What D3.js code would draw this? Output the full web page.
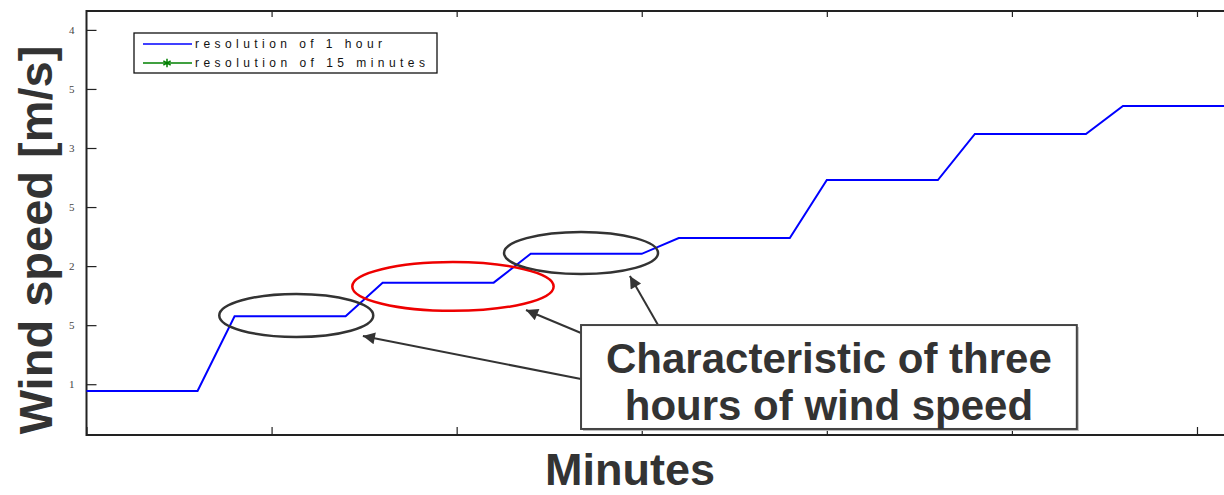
<!DOCTYPE html>
<html>
<head>
<meta charset="utf-8">
<script src="https://cdn.jsdelivr.net/npm/d3@7"></script>
<style>
  html, body { margin: 0; padding: 0; background: #fff; }
  svg { display: block; }
</style>
</head>
<body>
<svg id="chart" width="1224" height="495"></svg>
<script>
// ---- data ----
const minutes = [0, 45, 60, 105, 120, 165, 180, 225, 240, 285, 300, 345, 360, 405, 420, 465];
const speedHourly = [0.943, 0.943, 1.576, 1.576, 1.86, 1.86, 2.104, 2.104, 2.237, 2.237, 2.729, 2.729, 3.119, 3.119, 3.356, 3.356];
const xTickValues = [0, 75, 150, 225, 300, 375, 450];
const yTickValues = [1, 1.5, 2, 2.5, 3, 3.5, 4];
const yTickLabels = ["1", "5", "2", "5", "3", "5", "4"];
const legendLabels = ["resolution of 1 hour", "resolution of 15 minutes"];
const legendColors = ["#0000ff", "#008000"];
// annotation ellipses: centre (minutes, m/s), radii (minutes, m/s)
const ellipseCx = [85, 148.5, 200.4];
const ellipseCy = [1.582, 1.828, 2.111];
const ellipseRx = [31.2, 40.8, 31.2];
const ellipseRy = [0.182, 0.2066, 0.178];
const ellipseColors = ["#333333", "#ee0000", "#333333"];
// arrows: tail -> tip (minutes, m/s)
const arrowTail = [[200.4, 1.044], [200.4, 1.434], [231.6, 1.501]];
const arrowTip = [[112.0, 1.408], [178.1, 1.628], [220.2, 1.916]];
const boxText = ["Characteristic of three", "hours of wind speed"];

// ---- scales ----
const svg = d3.select("#chart");
const pLeft = 86.5, pRight = 1234, pTop = 11, pBottom = 435;
const x = d3.scaleLinear().domain([0, 465]).range([pLeft, pRight]);
const y = d3.scaleLinear().domain([0.57, 4.16]).range([pBottom, pTop]);

svg.append("defs").append("marker")
  .attr("id", "ah").attr("viewBox", "0 0 10 10").attr("refX", 10).attr("refY", 5)
  .attr("markerWidth", 16).attr("markerHeight", 12).attr("markerUnits", "userSpaceOnUse")
  .attr("orient", "auto")
  .append("path").attr("d", "M0,0 L10,5 L0,10 Z").attr("fill", "#333");

// ---- frame ----
svg.append("path")
  .attr("d", `M${pRight},${pTop} H${pLeft} V${pBottom} H${pRight}`)
  .attr("fill", "none").attr("stroke", "#222").attr("stroke-width", 2);

// y axis (ticks inward, labels outside)
const yAxis = d3.axisLeft(y).tickValues(yTickValues).tickSize(0).tickPadding(0)
  .tickFormat((d, i) => yTickLabels[i]);
const gy = svg.append("g").attr("transform", `translate(${pLeft},0)`).call(yAxis);
gy.select(".domain").remove();
gy.selectAll(".tick text").attr("x", -12).attr("font-family", "Liberation Serif")
  .attr("font-size", 11).attr("fill", "#444");
gy.selectAll(".tick").append("line").attr("x1", 0).attr("x2", 10).attr("stroke", "#222").attr("stroke-width", 1.2);

// x axis ticks (bottom inward, top inward), no labels
const xAxisB = d3.axisBottom(x).tickValues(xTickValues).tickSize(-8).tickFormat("");
const gxb = svg.append("g").attr("transform", `translate(0,${pBottom})`).call(xAxisB);
gxb.select(".domain").remove();
gxb.selectAll(".tick line").attr("stroke", "#222").attr("stroke-width", 1.2);
const xAxisT = d3.axisTop(x).tickValues(xTickValues.filter(d => d > 0)).tickSize(-6).tickFormat("");
const gxt = svg.append("g").attr("transform", `translate(0,${pTop})`).call(xAxisT);
gxt.select(".domain").remove();
gxt.selectAll(".tick line").attr("stroke", "#222").attr("stroke-width", 1.2);

// ---- data line ----
const pts = minutes.map((m, i) => [m, speedHourly[i]]);
svg.append("path").datum(pts)
  .attr("d", d3.line().x(d => x(d[0])).y(d => y(d[1])))
  .attr("fill", "none").attr("stroke", "#0000ff").attr("stroke-width", 2);

// ---- ellipses ----
svg.append("g").selectAll("ellipse").data(ellipseCx).join("ellipse")
  .attr("cx", (d) => x(d))
  .attr("cy", (d, i) => y(ellipseCy[i]))
  .attr("rx", (d, i) => x(ellipseRx[i]) - x(0))
  .attr("ry", (d, i) => y(0) - y(ellipseRy[i]))
  .attr("fill", "none").attr("stroke", (d, i) => ellipseColors[i]).attr("stroke-width", 2.5);

// ---- arrows ----
svg.append("g").selectAll("line").data(arrowTail).join("line")
  .attr("x1", d => x(d[0])).attr("y1", d => y(d[1]))
  .attr("x2", (d, i) => x(arrowTip[i][0])).attr("y2", (d, i) => y(arrowTip[i][1]))
  .attr("stroke", "#333").attr("stroke-width", 2).attr("marker-end", "url(#ah)");

// ---- annotation box ----
const bx0 = x(200.4), bx1 = x(401.3), by0 = y(1.501), by1 = y(0.621);
svg.append("rect").attr("x", bx0 + 2).attr("y", by0 + 2).attr("width", bx1 - bx0).attr("height", by1 - by0)
  .attr("fill", "#bbb");
svg.append("rect").attr("x", bx0).attr("y", by0).attr("width", bx1 - bx0).attr("height", by1 - by0)
  .attr("fill", "#fff").attr("stroke", "#444").attr("stroke-width", 2);
svg.append("g").selectAll("text").data(boxText).join("text")
  .attr("x", (bx0 + bx1) / 2).attr("y", (d, i) => by0 + 48 + i * 47)
  .attr("text-anchor", "middle").attr("font-family", "Liberation Sans, Arial, sans-serif")
  .attr("font-weight", "bold").attr("font-size", 42).attr("fill", "#333").text(d => d);

// ---- legend ----
const lg = svg.append("g").attr("transform", "translate(134,33)");
lg.append("rect").attr("width", 303).attr("height", 40).attr("fill", "#fff")
  .attr("stroke", "#111").attr("stroke-width", 1.3);
const lgLen = [187, 230];
legendLabels.forEach((lab, i) => {
  const yy = 11 + i * 19;
  lg.append("line").attr("x1", 9).attr("x2", 58).attr("y1", yy).attr("y2", yy)
    .attr("stroke", legendColors[i]).attr("stroke-width", 1.5);
  if (i === 1) {
    lg.append("path").attr("d", d3.symbol().type(d3.symbolAsterisk).size(50)())
      .attr("transform", `translate(33,${yy})`).attr("fill", "none")
      .attr("stroke", legendColors[i]).attr("stroke-width", 1.5);
  }
  lg.append("text").attr("x", 61).attr("y", yy + 4)
    .attr("font-family", "Liberation Sans, Arial, sans-serif").attr("font-size", 12)
    .attr("fill", "#111").attr("textLength", lgLen[i]).attr("lengthAdjust", "spacing").text(lab);
});

// ---- axis titles ----
svg.append("text").attr("transform", "translate(52,240) rotate(-90)")
  .attr("text-anchor", "middle").attr("font-family", "Liberation Sans, Arial, sans-serif")
  .attr("font-weight", "bold").attr("font-size", 47).attr("fill", "#333").text("Wind speed [m/s]");
svg.append("text").attr("x", 630).attr("y", 485)
  .attr("text-anchor", "middle").attr("font-family", "Liberation Sans, Arial, sans-serif")
  .attr("font-weight", "bold").attr("font-size", 45).attr("fill", "#333").text("Minutes");
</script>
</body>
</html>
